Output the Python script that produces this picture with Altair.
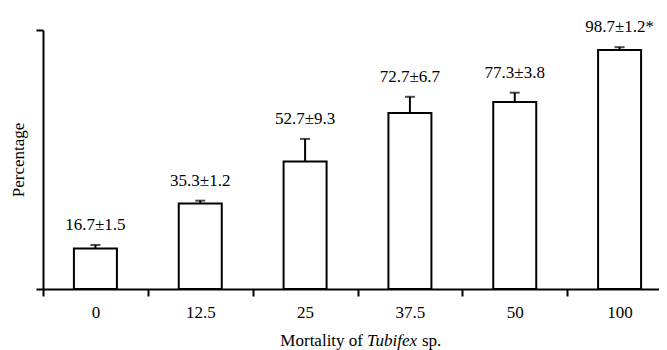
import altair as alt
import pandas as pd

categories = ["0", "12.5", "25", "37.5", "50", "100"]
means = [16.7, 35.3, 52.7, 72.7, 77.3, 98.7]
sds = [1.5, 1.2, 9.3, 6.7, 3.8, 1.2]
labels = ["16.7\u00b11.5", "35.3\u00b11.2", "52.7\u00b19.3", "72.7\u00b16.7", "77.3\u00b13.8", "98.7\u00b11.2*"]

df = pd.DataFrame({"cat": categories, "mean": means, "sd": sds, "label": labels})
df["top"] = df["mean"] + df["sd"]

FONT = "Liberation Serif"
W, H = 616, 259

xenc = alt.X("cat:N", sort=categories,
             scale=alt.Scale(range=[0, 629], paddingInner=0, paddingOuter=0),
             axis=alt.Axis(title=None, labelAngle=0, tickBand="extent", tickSize=7,
                           tickWidth=2, domainWidth=2, tickColor="black", domainColor="black",
                           labelFont=FONT, labelFontSize=17, labelColor="black",
                           labelPadding=8, grid=False))
yscale = alt.Scale(domain=[0, 107], nice=False, zero=True)
yaxis = alt.Axis(title="Percentage", values=[0, 107], labels=False, tickSize=7, tickWidth=2,
                 domainWidth=2, tickColor="black", domainColor="black", grid=False,
                 titleFont=FONT, titleFontSize=17, titleFontWeight="normal",
                 titleColor="black", titlePadding=8)

base = alt.Chart(df)

bars = base.mark_bar(fill="white", stroke="black", strokeWidth=2, width=43).encode(
    x=xenc,
    y=alt.Y("mean:Q", scale=yscale, axis=yaxis),
)
err = base.mark_rule(color="black", strokeWidth=2).encode(
    x=alt.X("cat:N", sort=categories), y="mean:Q", y2="top:Q")
cap = base.mark_tick(color="black", thickness=2, size=10, orient="horizontal").encode(
    x=alt.X("cat:N", sort=categories), y="top:Q")
txt = base.mark_text(font=FONT, fontSize=17, color="black", baseline="alphabetic", dy=-15).encode(
    x=alt.X("cat:N", sort=categories), y="top:Q", text="label:N")

ttl_y = H + 57
t1 = alt.Chart(pd.DataFrame({"t": ["Mortality of"]})).mark_text(
    font=FONT, fontSize=17, color="black", align="right", baseline="alphabetic").encode(
    x=alt.value(320), y=alt.value(ttl_y), text="t:N")
t2 = alt.Chart(pd.DataFrame({"t": ["Tubifex"]})).mark_text(
    font=FONT, fontSize=17, color="black", fontStyle="italic", align="left", baseline="alphabetic").encode(
    x=alt.value(324), y=alt.value(ttl_y), text="t:N")
t3 = alt.Chart(pd.DataFrame({"t": ["sp."]})).mark_text(
    font=FONT, fontSize=17, color="black", align="left", baseline="alphabetic").encode(
    x=alt.value(379), y=alt.value(ttl_y), text="t:N")

chart = alt.layer(bars, err, cap, txt, t1, t2, t3).properties(
    width=W, height=H,
    autosize=alt.AutoSizeParams(type="none"),
    padding={"left": 35, "top": 22, "right": 0, "bottom": 61},
    background="white",
).configure_view(stroke=None)

chart.save("out.html", embed_options={"renderer": "svg", "actions": False})
